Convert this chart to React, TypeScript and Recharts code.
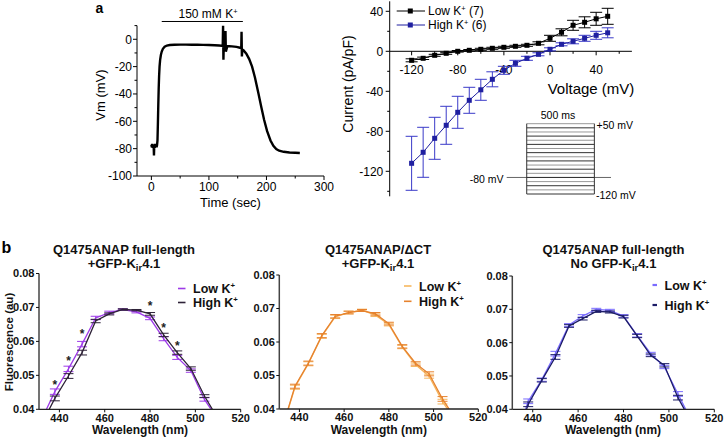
import React from 'react';
import { ComposedChart, LineChart, Line, XAxis, YAxis, ErrorBar, ReferenceLine, Scatter } from 'recharts';

const FONT = '"Liberation Sans", Arial, Helvetica, sans-serif';

// ---------------- Panel a (left): membrane potential trace ----------------
const vmTrace: [number, number][] = [
  [0, -77], [0.8, -79], [1.6, -76.5], [2.4, -79.5], [3.2, -77], [4, -78.5], [4.5, -85], [5, -77.5],
  [5.8, -79.5], [6.6, -76.5], [7.4, -79], [8.2, -77], [9, -79], [9.8, -77.5], [10.6, -74], [11.3, -62],
  [12, -48], [12.7, -36], [13.4, -27], [14.2, -20], [15.2, -15], [16.5, -11.5], [18, -9], [20, -7],
  [23, -5.5], [27, -4.6], [32, -4.2], [40, -4], [50, -3.9], [60, -3.9], [70, -4], [80, -4], [90, -4.1],
  [100, -4.2], [110, -4.4], [118, -4.6], [124, -4.8], [124.6, 10], [125.2, -15], [125.8, -4.5],
  [128.3, -5], [128.8, 6], [129.4, -9], [132, -5], [140, -5.2], [148, -5.6], [154, -6.2], [156.2, -6.5],
  [156.7, 5.5], [157.3, -12.5], [158, -7.5], [160, -8], [165, -10.5], [170, -14.5], [175, -20],
  [180, -28], [186, -39.5], [191, -49.5], [196, -59], [201, -67], [207, -74], [212, -78], [217, -80.3],
  [222, -81.5], [230, -82.3], [240, -82.8], [250, -83], [258, -83.2],
];
const vmXTicks = [0, 50, 100, 150, 200, 250, 300];
const vmXMajor = [0, 100, 200, 300];
const vmYTicks = [-100, -90, -80, -70, -60, -50, -40, -30, -20, -10, 0, 10];
const vmYMajor = [-100, -80, -60, -40, -20, 0];
const kApplication = { start: 18, end: 159, level: 13 };

// ---------------- Panel a (right): I-V relationship ----------------
const ivVoltages = [-120, -110, -100, -90, -80, -70, -60, -50, -40, -30, -20, -10, 0, 10, 20, 30, 40, 50];
const ivLow = [-9, -7, -4, -2, 0, 1, 2, 3, 4, 5, 6, 8, 13, 19, 26, 29, 32.5, 35];
const ivLowErr = [1.5, 1.2, 1, 1, 0.8, 0.8, 1, 1, 1, 1, 1, 1.5, 3, 3.5, 5, 5.5, 6.5, 8];
const ivHigh = [-112, -101, -87, -74, -61, -49, -38.5, -28, -19, -12, -7, -3, 2, 7, 10, 13, 16, 18.5];
const ivHighErr = [27, 25, 21, 19, 16, 13, 10.5, 7.5, 4, 3, 2, 1.5, 1.5, 1.5, 2.5, 3, 4, 5];
const ivXTicks = [-120, -100, -80, -60, -40, -20, 0, 20, 40, 60];
const ivXMajor = [-120, -80, -40, 0, 40];
const ivYTicks = [-140, -120, -100, -80, -60, -40, -20, 0, 20, 40];
const ivYMajor = [-120, -80, -40, 0, 40];

// voltage protocol inset
const stepLevels = [-120, -110, -100, -90, -80, -70, -60, -50, -40, -30, -20, -10, 0, 10, 20, 30, 40, 50];
const holdingPotential = -80;
const stepDuration = 500;
const holdingSpan = [-148, 623];

// ---------------- Panel b: emission spectra ----------------
const wavelengths = [432, 438, 444, 450, 456, 462, 468, 474, 480, 486, 492, 498, 504, 510];
const bXTicks = [440, 460, 480, 500, 520];
const bYTicks = [0.04, 0.05, 0.06, 0.07, 0.08];

const b1Low = [0.0368, 0.0452, 0.0519, 0.0592, 0.0669, 0.0685, 0.0694, 0.0687, 0.0668, 0.0608, 0.0553, 0.0514, 0.0429, 0.0369];
const b1LowErr = [0, 0.0008, 0.0008, 0.0008, 0.0005, 0.0004, 0.0002, 0.0003, 0.0004, 0.0006, 0.0006, 0.0005, 0.0005, 0];
const b1High = [0.0355, 0.0432, 0.0498, 0.0567, 0.066, 0.0681, 0.0694, 0.0692, 0.0681, 0.0619, 0.0567, 0.052, 0.0439, 0.0372];
const b1HighErr = [0, 0.0007, 0.0007, 0.0007, 0.0005, 0.0003, 0.0002, 0.0002, 0.0004, 0.0005, 0.0005, 0.0005, 0.0004, 0];
const b1StarW = [438, 444, 450, 480, 486, 492];
const b1StarY = [0.0477, 0.0546, 0.0625, 0.0707, 0.0643, 0.0591];

const b2Low = [0.0333, 0.0465, 0.0535, 0.0617, 0.0675, 0.0688, 0.0695, 0.068, 0.0652, 0.0585, 0.0532, 0.0498, 0.0422, 0.0362];
const b2LowErr = [0, 0.0006, 0.0006, 0.0006, 0.0005, 0.0004, 0.0003, 0.0004, 0.0004, 0.0005, 0.0005, 0.0006, 0.0007, 0];
const b2High = [0.0336, 0.0468, 0.0537, 0.0619, 0.0677, 0.0688, 0.0694, 0.0684, 0.0655, 0.0587, 0.0536, 0.0505, 0.043, 0.0368];
const b2HighErr = [0, 0.0006, 0.0006, 0.0006, 0.0005, 0.0004, 0.0003, 0.0004, 0.0004, 0.0005, 0.0005, 0.0006, 0.0007, 0];

const b3Low = [0.03, 0.0424, 0.0489, 0.0567, 0.0653, 0.068, 0.07, 0.0697, 0.068, 0.0622, 0.0567, 0.0527, 0.0446, 0.0365];
const b3LowErr = [0, 0.0007, 0.0005, 0.0007, 0.0004, 0.0004, 0.0003, 0.0003, 0.0004, 0.0005, 0.0004, 0.0005, 0.0007, 0];
const b3High = [0.029, 0.0415, 0.0487, 0.0557, 0.065, 0.0672, 0.0694, 0.0692, 0.0678, 0.062, 0.0562, 0.0532, 0.0435, 0.036];
const b3HighErr = [0, 0.0007, 0.0005, 0.0007, 0.0004, 0.0004, 0.0003, 0.0003, 0.0004, 0.0005, 0.0004, 0.0005, 0.0007, 0];

const C = {
  ivHigh: '#1f1fa0', ivHighErr: '#3a3ac8',
  b1Low: '#9d3ae8', b1High: '#2e2238',
  b2Low: '#f6b65e', b2High: '#e6822e',
  b3Low: '#7a6cff', b3High: '#1c1c66',
};

type TickOpt = {
  side: 'left' | 'bottom'; majors: number[]; len: number; minorLen: number; gap: number;
  fontSize: number; fontWeight?: number | string; fmt: (v: number) => string; color?: string;
};
function makeTick(o: TickOpt) {
  return (props: any) => {
    const { x, y, payload, index } = props;
    const v = payload.value as number;
    const major = o.majors.some((m) => Math.abs(m - v) < 1e-9);
    const len = major ? o.len : o.minorLen;
    const c = o.color || '#000';
    if (o.side === 'left') {
      return (
        <g key={`t${index}`}>
          <line x1={x} y1={y} x2={x - len} y2={y} stroke={c} strokeWidth={1} />
          {major && (
            <text x={x - o.len - o.gap} y={y} dy="0.36em" textAnchor="end" fontSize={o.fontSize} fontWeight={o.fontWeight} fill={c}>
              {o.fmt(v)}
            </text>
          )}
        </g>
      );
    }
    return (
      <g key={`t${index}`}>
        <line x1={x} y1={y} x2={x} y2={y + len} stroke={c} strokeWidth={1} />
        {major && (
          <text x={x} y={y + o.len + o.gap} dy="0.72em" textAnchor="middle" fontSize={o.fontSize} fontWeight={o.fontWeight} fill={c}>
            {o.fmt(v)}
          </text>
        )}
      </g>
    );
  };
}

const squareDot = (color: string) => (p: any) => (
  <rect key={`d${p.index}`} x={p.cx - 2.5} y={p.cy - 2.5} width={5} height={5} fill={color} />
);

const abs = (l: number, t: number, w: number, h: number): React.CSSProperties => ({ position: 'absolute', left: l, top: t, width: w, height: h });

function VmChart() {
  const data = vmTrace.map(([t, v]) => ({ t, v }));
  return (
    <div style={abs(0, 0, 340, 215)}>
      <LineChart width={340} height={215} data={data} margin={{ top: 25.6, right: 16, bottom: 0, left: 0 }}>
        <XAxis dataKey="t" type="number" domain={[-25, 300]} ticks={vmXTicks} interval={0} height={39} allowDataOverflow
          axisLine={{ stroke: '#000' }} tickLine={false} tickSize={0} tickMargin={0}
          tick={makeTick({ side: 'bottom', majors: vmXMajor, len: 4, minorLen: 2.5, gap: 2.4, fontSize: 12, fmt: String })} />
        <YAxis type="number" domain={[-100, 10]} ticks={vmYTicks} interval={0} width={137} allowDataOverflow
          axisLine={{ stroke: '#000' }} tickLine={false} tickSize={0} tickMargin={0}
          tick={makeTick({ side: 'left', majors: vmYMajor, len: 4, minorLen: 2.5, gap: 1, fontSize: 12, fmt: String })} />
        <ReferenceLine segment={[{ x: kApplication.start, y: kApplication.level }, { x: kApplication.end, y: kApplication.level }]}
          stroke="#000" strokeWidth={1} ifOverflow="visible" />
        <Line dataKey="v" stroke="#000" strokeWidth={2.4} dot={false} isAnimationActive={false} />
      </LineChart>
    </div>
  );
}

function IVChart() {
  const data = ivVoltages.map((v, i) => ({ v, low: ivLow[i], lowErr: ivLowErr[i], high: ivHigh[i], highErr: ivHighErr[i] }));
  return (
    <>
      <div style={abs(330, 0, 394, 215)}>
        <LineChart width={394} height={215} data={data} margin={{ top: 1.3, right: 92.1, bottom: 0, left: 59.7 }}>
          <XAxis dataKey="v" type="number" domain={[-139, 71]} ticks={ivXTicks} interval={0} height={163.7} allowDataOverflow
            axisLine={{ stroke: '#000' }} tickLine={false} tickSize={0} tickMargin={0}
            tick={makeTick({ side: 'bottom', majors: ivXMajor, len: 4, minorLen: 2.5, gap: 10.4, fontSize: 12, fmt: String })} />
          <YAxis type="number" domain={[0, 1]} hide />
          <Line dataKey="low" stroke="none" dot={false} isAnimationActive={false} />
        </LineChart>
      </div>
      <div style={abs(330, 0, 394, 215)}>
        <LineChart width={394} height={215} data={data} margin={{ top: 1.3, right: 92.1, bottom: 18.7, left: 0 }}>
          <XAxis dataKey="v" type="number" domain={[-139, 71]} hide allowDataOverflow />
          <YAxis type="number" domain={[-145, 50]} ticks={ivYTicks} interval={0} width={59.7} allowDataOverflow
            axisLine={{ stroke: '#000' }} tickLine={false} tickSize={0} tickMargin={0}
            tick={makeTick({ side: 'left', majors: ivYMajor, len: 4, minorLen: 2.5, gap: 2.4, fontSize: 12, fmt: String })} />
          <Line dataKey="low" stroke="#000" strokeWidth={1} dot={squareDot('#000')} isAnimationActive={false}>
            <ErrorBar dataKey="lowErr" width={6} stroke="#000" strokeWidth={1} direction="y" />
          </Line>
          <Line dataKey="high" stroke={C.ivHigh} strokeWidth={1} dot={squareDot(C.ivHigh)} isAnimationActive={false}>
            <ErrorBar dataKey="highErr" width={6} stroke={C.ivHighErr} strokeWidth={1} direction="y" />
          </Line>
        </LineChart>
      </div>
      <div style={abs(460, 100, 200, 110)}>
        <LineChart width={200} height={110} data={stepLevels.map((l) => ({ t: 0, l }))} margin={{ top: 23.7, right: 49, bottom: 16, left: 46.7 }}>
          <XAxis dataKey="t" type="number" domain={holdingSpan} hide allowDataOverflow />
          <YAxis type="number" domain={[-120, 50]} hide allowDataOverflow />
          <ReferenceLine segment={[{ x: holdingSpan[0], y: holdingPotential }, { x: holdingSpan[1], y: holdingPotential }]} stroke="#666" strokeWidth={1} ifOverflow="visible" />
          {stepLevels.map((lv, i) => (
            <ReferenceLine key={lv} segment={[{ x: 0, y: lv }, { x: stepDuration, y: lv }]} stroke={i % 2 ? '#999' : '#333'} strokeWidth={1} ifOverflow="visible" />
          ))}
          <ReferenceLine segment={[{ x: 0, y: stepLevels[0] }, { x: 0, y: stepLevels[stepLevels.length - 1] }]} stroke="#333" strokeWidth={1} ifOverflow="visible" />
          <ReferenceLine segment={[{ x: stepDuration, y: stepLevels[0] }, { x: stepDuration, y: stepLevels[stepLevels.length - 1] }]} stroke="#333" strokeWidth={1} ifOverflow="visible" />
        </LineChart>
      </div>
    </>
  );
}

type SpecProps = {
  left: number; width: number; yW: number; mRight: number; mTop: number; xH: number;
  low: number[]; lowErr: number[]; high: number[]; highErr: number[];
  lowColor: string; highColor: string; starW?: number[]; starY?: number[];
};
function SpectrumChart(p: SpecProps) {
  const data = wavelengths.map((w, i) => ({ w, low: p.low[i], lowErr: p.lowErr[i], high: p.high[i], highErr: p.highErr[i] }));
  const stars = (p.starW || []).map((w, i) => ({ w, star: (p.starY || [])[i] }));
  const fmt = (v: number) => v.toFixed(2);
  return (
    <div style={abs(p.left, 220, p.width, 219)}>
      <ComposedChart width={p.width} height={219} data={data} margin={{ top: p.mTop, right: p.mRight, bottom: 0, left: 0 }}>
        <XAxis dataKey="w" type="number" domain={[431, 520]} ticks={bXTicks} interval={0} height={p.xH} allowDataOverflow
          axisLine={{ stroke: '#222', strokeWidth: 1.3 }} tickLine={false} tickSize={0} tickMargin={0}
          tick={makeTick({ side: 'bottom', majors: bXTicks, len: 3, minorLen: 3, gap: 1.3, fontSize: 11, fontWeight: 700, fmt: String, color: '#111' })} />
        <YAxis type="number" domain={[0.04, 0.08]} ticks={bYTicks} interval={0} width={p.yW} allowDataOverflow
          axisLine={{ stroke: '#444', strokeWidth: 1.5 }} tickLine={false} tickSize={0} tickMargin={0}
          tick={makeTick({ side: 'left', majors: bYTicks, len: 3, minorLen: 3, gap: 1.5, fontSize: 11, fontWeight: 700, fmt, color: '#111' })} />
        <Line dataKey="low" stroke={p.lowColor} strokeWidth={1.3} dot={false} isAnimationActive={false}>
          <ErrorBar dataKey="lowErr" width={5} stroke={p.lowColor} strokeWidth={1} direction="y" />
        </Line>
        <Line dataKey="high" stroke={p.highColor} strokeWidth={1.3} dot={false} isAnimationActive={false}>
          <ErrorBar dataKey="highErr" width={5} stroke={p.highColor} strokeWidth={1} direction="y" />
        </Line>
        {stars.length > 0 && (
          <Scatter data={stars} dataKey="star" isAnimationActive={false}
            shape={(s: any) => (
              <text x={s.cx} y={s.cy} dy="0.45em" textAnchor="middle" fontSize={12} fontWeight={700} fill="#222">*</text>
            )} />
        )}
      </ComposedChart>
    </div>
  );
}

const Sup = ({ fs, after }: { fs: number; after?: string }) => (
  <>
    <tspan dy={-fs * 0.38} fontSize={fs * 0.62}>+</tspan>
    {after ? <tspan dy={fs * 0.38}>{after}</tspan> : null}
  </>
);

function Overlay() {
  const legB = (x: number, y: number, color: string, label: string, lineW: number, thick: number) => (
    <g>
      <line x1={x} y1={y} x2={x + lineW} y2={y} stroke={color} strokeWidth={thick} />
      <text x={x + lineW + 7.5} y={y + 4.6} fontSize={12.5} fontWeight={700} fill="#111">
        {label} K<Sup fs={12.5} />
      </text>
    </g>
  );
  const title = (cx: number, l1: string, l2pre: string) => (
    <g>
      <text x={cx} y={254} textAnchor="middle" fontSize={13} fontWeight={700} fill="#111">{l1}</text>
      <text x={cx} y={268} textAnchor="middle" fontSize={13} fontWeight={700} fill="#111">
        {l2pre}K<tspan dy={3} fontSize={9.5}>ir</tspan><tspan dy={-3}>4.1</tspan>
      </text>
    </g>
  );
  return (
    <svg width={724} height={439} style={{ position: 'absolute', left: 0, top: 0, pointerEvents: 'none' }}>
      {/* panel a */}
      <text x={95.5} y={13} fontSize={14} fontWeight={700}>a</text>
      <text x={208} y={18.3} textAnchor="middle" fontSize={12}>150 mM K<Sup fs={12} /></text>
      <text x={100} y={95} dy="0.35em" textAnchor="middle" fontSize={13} transform="rotate(-90 100 95)">Vm (mV)</text>
      <text x={230.5} y={207} textAnchor="middle" fontSize={13}>Time (sec)</text>

      <text x={348} y={84} dy="0.35em" textAnchor="middle" fontSize={14} transform="rotate(-90 348 84)">Current (pA/pF)</text>
      <text x={591} y={93.5} textAnchor="middle" fontSize={15}>Voltage (mV)</text>
      <line x1={396.7} y1={11} x2={425} y2={11} stroke="#000" strokeWidth={1} />
      <rect x={407.8} y={8.5} width={5} height={5} fill="#000" />
      <text x={428} y={15.3} fontSize={12}>Low K<Sup fs={12} after=" (7)" /></text>
      <line x1={396.7} y1={25} x2={425} y2={25} stroke={C.ivHigh} strokeWidth={1} />
      <rect x={407.8} y={22.5} width={5} height={5} fill={C.ivHigh} />
      <text x={428} y={29.3} fontSize={12}>High K<Sup fs={12} after=" (6)" /></text>

      <text x={558} y={118.5} textAnchor="middle" fontSize={10.5}>500 ms</text>
      <text x={596.5} y={128.5} fontSize={10.5}>+50 mV</text>
      <text x={596} y={199} fontSize={10.5}>-120 mV</text>
      <text x={503.5} y={183} textAnchor="end" fontSize={10.5}>-80 mV</text>

      {/* panel b */}
      <text x={1.5} y={253.3} fontSize={16} fontWeight={700}>b</text>
      {title(124, 'Q1475ANAP full-length', '+GFP-')}
      {title(378, 'Q1475ANAP/\u0394CT', '+GFP-')}
      {title(613.5, 'Q1475ANAP full-length', 'No GFP-')}
      <text x={9} y={342} dy="0.35em" textAnchor="middle" fontSize={11.5} fontWeight={700} fill="#111" transform="rotate(-90 9 342)">Fluorescence (au)</text>
      <text x={140} y={433.5} textAnchor="middle" fontSize={12} fontWeight={700} fill="#111">Wavelength (nm)</text>
      <text x={378.8} y={433.5} textAnchor="middle" fontSize={12} fontWeight={700} fill="#111">Wavelength (nm)</text>
      <text x={613} y={433.5} textAnchor="middle" fontSize={12} fontWeight={700} fill="#111">Wavelength (nm)</text>

      {legB(178, 288.5, C.b1Low, 'Low', 7.5, 1.6)}
      {legB(178, 302.5, C.b1High, 'High', 7.5, 1.6)}
      {legB(404, 286, C.b2Low, 'Low', 7.5, 1.6)}
      {legB(404, 301.3, C.b2High, 'High', 7.5, 1.6)}
      {legB(652.5, 285, C.b3Low, 'Low', 4.5, 2.2)}
      {legB(652.5, 305, C.b3High, 'High', 4.5, 2.2)}
    </svg>
  );
}

export default function App() {
  return (
    <div style={{ position: 'absolute', left: 0, top: 0, width: 724, height: 439, background: '#fff', fontFamily: FONT, overflow: 'hidden' }}>
      <VmChart />
      <IVChart />
      <SpectrumChart left={0} width={250} yW={39} mRight={9.3} mTop={53.5} xH={29.7}
        low={b1Low} lowErr={b1LowErr} high={b1High} highErr={b1HighErr} lowColor={C.b1Low} highColor={C.b1High}
        starW={b1StarW} starY={b1StarY} />
      <SpectrumChart left={240} width={250} yW={39.3} mRight={11.7} mTop={55} xH={30}
        low={b2Low} lowErr={b2LowErr} high={b2High} highErr={b2HighErr} lowColor={C.b2Low} highColor={C.b2High} />
      <SpectrumChart left={470} width={254} yW={42.3} mRight={9.7} mTop={56} xH={29.7}
        low={b3Low} lowErr={b3LowErr} high={b3High} highErr={b3HighErr} lowColor={C.b3Low} highColor={C.b3High} />
      <Overlay />
    </div>
  );
}
